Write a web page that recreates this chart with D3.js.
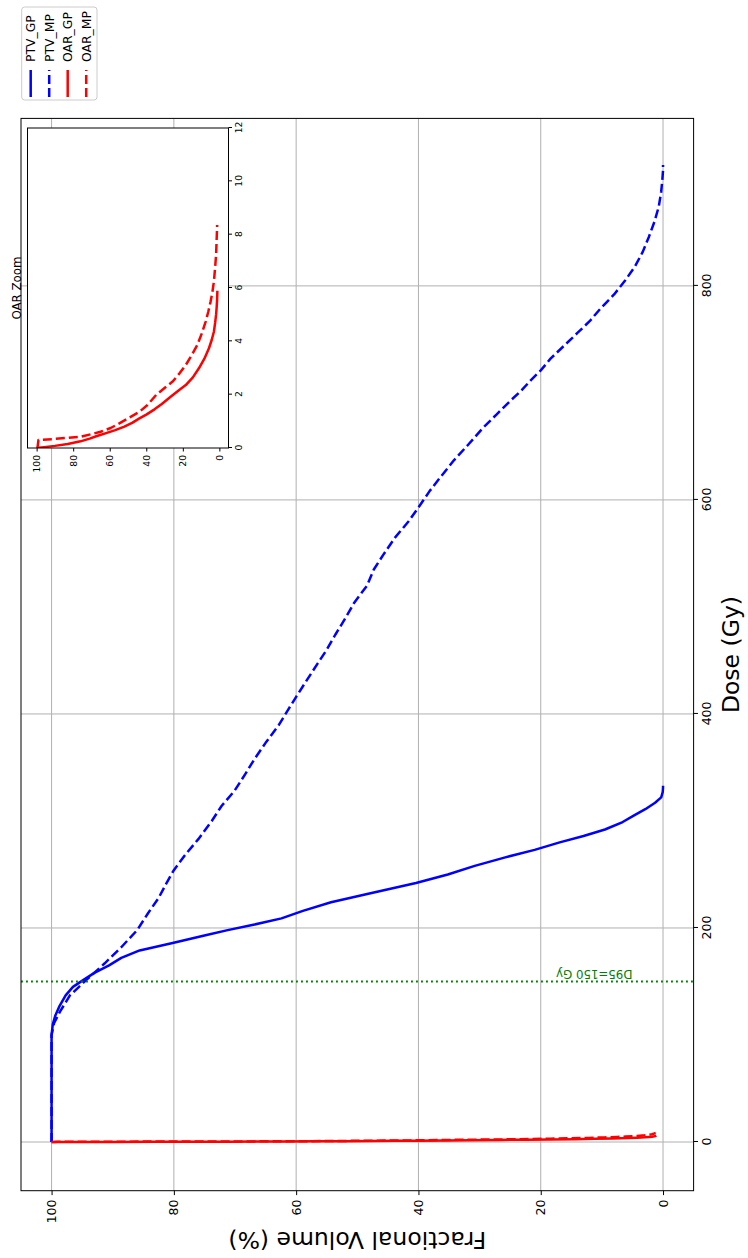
<!DOCTYPE html>
<html>
<head>
<meta charset="utf-8">
<script src="https://cdn.jsdelivr.net/npm/d3@7"></script>
<style>
  html, body { margin: 0; padding: 0; background: #ffffff; overflow: hidden; }
  svg { display: block; font-family: "DejaVu Sans", sans-serif; }
</style>
</head>
<body>
<script>
// ---------------- data ----------------
const doseTicks = [0, 200, 400, 600, 800];
const volTicks = [0, 20, 40, 60, 80, 100];
const insetDoseTicks = [0, 2, 4, 6, 8, 10, 12];
const seriesNames = ["PTV_GP", "PTV_MP", "OAR_GP", "OAR_MP"];

const ptvGpDose = [0, 100, 110, 118, 127, 137, 145, 151, 158, 165, 172, 179, 186, 193, 198, 203, 209, 216, 224, 232, 242, 250, 258, 266, 273, 280, 286, 292, 299, 305, 311, 317, 322, 327, 331, 333];
const ptvGpVol  = [100, 100, 99.8, 99.4, 98.7, 97.7, 96.5, 94.9, 93.0, 90.6, 88.6, 85.6, 80.2, 75.0, 71.2, 67.0, 62.4, 58.9, 54.3, 48.2, 40.4, 35.2, 30.8, 25.8, 21.0, 16.9, 13.0, 9.5, 6.6, 4.8, 2.9, 1.3, 0.3, 0.05, 0, 0];

const ptvMpDose = [0, 100, 111, 122, 137, 151, 167, 182, 198, 214, 228, 242, 254, 268, 283, 300, 314, 328, 344, 358, 373, 390, 404, 416, 432, 447, 460, 474, 489, 504, 520, 535, 550, 565, 580, 593, 608, 622, 637, 652, 667, 680, 693, 702, 712, 721, 732, 744, 756, 767, 779, 792, 805, 818, 832, 846, 860, 874, 888, 900, 908, 913];
const ptvMpVol  = [100, 100, 99.6, 98.6, 97.0, 94.4, 91.3, 88.6, 86.0, 84.2, 82.5, 81.2, 80.0, 78.2, 76.0, 73.8, 72.2, 70.1, 68.3, 66.8, 65.0, 62.8, 61.3, 60.0, 58.2, 56.5, 55.0, 53.6, 52.0, 50.5, 48.4, 47.3, 45.6, 43.8, 41.6, 40.0, 38.2, 36.3, 34.2, 31.8, 29.5, 27.2, 24.9, 23.2, 21.6, 20.0, 18.4, 16.2, 14.0, 12.0, 10.2, 8.0, 6.2, 4.6, 3.3, 2.3, 1.4, 0.7, 0.3, 0.1, 0, 0];

const oarGpDose = [0, 0.03, 0.08, 0.15, 0.25, 0.35, 0.45, 0.56, 0.67, 0.8, 0.95, 1.1, 1.25, 1.45, 1.65, 1.93, 2.15, 2.36, 2.65, 2.99, 3.35, 3.74, 4.05, 4.36, 4.7, 5.0, 5.3, 5.55, 5.75, 5.9];
const oarGpVol  = [100, 96, 90, 83, 76, 71, 67, 62, 57, 52, 47.5, 44, 40, 35.5, 31.5, 26.5, 22.5, 18.4, 14.5, 11.2, 8.2, 5.7, 4.2, 3.0, 2.3, 1.8, 1.45, 1.25, 1.15, 1.1];

const oarMpDose = [0, 0.02, 0.3, 0.34, 0.42, 0.52, 0.61, 0.75, 0.93, 1.15, 1.36, 1.6, 1.99, 2.25, 2.49, 2.8, 3.11, 3.5, 3.86, 4.3, 4.74, 5.1, 5.49, 5.85, 6.24, 6.7, 7.24, 7.8, 8.36];
const oarMpVol  = [100, 99.5, 99, 90, 76, 70, 65, 59.5, 54.5, 49, 43.7, 39.5, 34.6, 30, 25.6, 21.8, 18.4, 15, 12.1, 9.6, 7.5, 6.1, 4.8, 3.8, 3.0, 2.4, 1.8, 1.5, 1.2];

const d95Dose = 150;
const d95Label = "D95=150 Gy";

// ---------------- setup ----------------
const W = 748, H = 1258;
const svg = d3.select("body").append("svg").attr("width", W).attr("height", H);
svg.append("rect").attr("width", W).attr("height", H).attr("fill", "#ffffff");

// whole figure drawn in landscape coordinates then turned a quarter-turn counter-clockwise
const root = svg.append("g").attr("transform", `translate(0,${H}) rotate(-90)`);

const AX = { l: 67.3, r: 1139.6, t: 21, b: 693.6 };
const x = d3.scaleLinear().domain([-45.5, 956.5]).range([AX.l, AX.r]);
const y = d3.scaleLinear().domain([-5, 105]).range([AX.b, AX.t]);

const series = [
  { name: seriesNames[0], dose: ptvGpDose, vol: ptvGpVol, color: "#0000ff", dash: null },
  { name: seriesNames[1], dose: ptvMpDose, vol: ptvMpVol, color: "#0000ff", dash: "9,4" },
  { name: seriesNames[2], dose: oarGpDose, vol: oarGpVol, color: "#ff0000", dash: null },
  { name: seriesNames[3], dose: oarMpDose, vol: oarMpVol, color: "#ff0000", dash: "9,4" }
];

const defs = root.append("defs");
defs.append("clipPath").attr("id", "mainClip").append("rect")
  .attr("x", AX.l).attr("y", AX.t).attr("width", AX.r - AX.l).attr("height", AX.b - AX.t);

// grid
const grid = root.append("g");
grid.selectAll("line.gx").data(doseTicks).join("line")
  .attr("x1", d => x(d)).attr("x2", d => x(d)).attr("y1", AX.t).attr("y2", AX.b)
  .attr("stroke", "#b0b0b0").attr("stroke-width", 1);
grid.selectAll("line.gy").data(volTicks).join("line")
  .attr("x1", AX.l).attr("x2", AX.r).attr("y1", d => y(d)).attr("y2", d => y(d))
  .attr("stroke", "#b0b0b0").attr("stroke-width", 1);

// curves
const plot = root.append("g").attr("clip-path", "url(#mainClip)");
series.forEach(s => {
  const pts = d3.zip(s.dose, s.vol);
  plot.append("path")
    .attr("d", d3.line().x(d => x(d[0])).y(d => y(d[1]))(pts))
    .attr("fill", "none").attr("stroke", s.color).attr("stroke-width", 2.5)
    .attr("stroke-linejoin", "round")
    .attr("stroke-dasharray", s.dash);
});

// D95 line + label
plot.append("line")
  .attr("x1", x(d95Dose)).attr("x2", x(d95Dose)).attr("y1", AX.t).attr("y2", AX.b)
  .attr("stroke", "#008000").attr("stroke-width", 1.9).attr("stroke-dasharray", "1.9,3.1");
root.append("text")
  .attr("transform", `translate(${x(d95Dose + 2) + 9.5},${y(5)}) rotate(-90)`)
  .attr("font-size", 11.8).attr("fill", "#008000").text(d95Label);

// frame
root.append("rect").attr("x", AX.l).attr("y", AX.t)
  .attr("width", AX.r - AX.l).attr("height", AX.b - AX.t)
  .attr("fill", "none").attr("stroke", "#000").attr("stroke-width", 1);

// axes
const xAxis = root.append("g").attr("transform", `translate(0,${AX.b})`)
  .call(d3.axisBottom(x).tickValues(doseTicks).tickSize(4.4).tickPadding(4.4).tickFormat(d3.format("d")));
const yAxis = root.append("g").attr("transform", `translate(${AX.l},0)`)
  .call(d3.axisLeft(y).tickValues(volTicks).tickSize(4.4).tickPadding(4.4).tickFormat(d3.format("d")));
[xAxis, yAxis].forEach(g => {
  g.select(".domain").remove();
  g.selectAll(".tick line").attr("stroke", "#000").attr("stroke-width", 1);
  g.selectAll("text").attr("font-size", 12.5).attr("fill", "#000").attr("font-family", "DejaVu Sans");
});

// axis labels
root.append("text").attr("x", (AX.l + AX.r) / 2).attr("y", 739)
  .attr("text-anchor", "middle").attr("font-size", 23.5).attr("fill", "#000").text("Dose (Gy)");
root.append("text").attr("transform", `translate(26,${(AX.t + AX.b) / 2}) rotate(-90)`)
  .attr("text-anchor", "middle").attr("font-size", 23.5).attr("fill", "#000").text("Fractional Volume (%)");

// ---------------- inset ----------------
const IN = { l: 810, r: 1130, t: 27.5, b: 228.5 };
const xi = d3.scaleLinear().domain([0, 12]).range([IN.l, IN.r]);
const yi = d3.scaleLinear().domain([-5, 105]).range([IN.b, IN.t]);
defs.append("clipPath").attr("id", "insetClip").append("rect")
  .attr("x", IN.l).attr("y", IN.t).attr("width", IN.r - IN.l).attr("height", IN.b - IN.t);

const inset = root.append("g");
inset.append("rect").attr("x", IN.l).attr("y", IN.t)
  .attr("width", IN.r - IN.l).attr("height", IN.b - IN.t).attr("fill", "#ffffff");
const iplot = inset.append("g").attr("clip-path", "url(#insetClip)");
series.slice(2).forEach(s => {
  const pts = d3.zip(s.dose, s.vol);
  iplot.append("path")
    .attr("d", d3.line().x(d => xi(d[0])).y(d => yi(d[1]))(pts))
    .attr("fill", "none").attr("stroke", s.color).attr("stroke-width", 2.5)
    .attr("stroke-linejoin", "round")
    .attr("stroke-dasharray", s.dash);
});
inset.append("rect").attr("x", IN.l).attr("y", IN.t)
  .attr("width", IN.r - IN.l).attr("height", IN.b - IN.t)
  .attr("fill", "none").attr("stroke", "#000").attr("stroke-width", 1);
const xiAxis = inset.append("g").attr("transform", `translate(0,${IN.b})`)
  .call(d3.axisBottom(xi).tickValues(insetDoseTicks).tickSize(3.5).tickPadding(3.5).tickFormat(d3.format("d")));
const yiAxis = inset.append("g").attr("transform", `translate(${IN.l},0)`)
  .call(d3.axisLeft(yi).tickValues(volTicks).tickSize(3.5).tickPadding(3.5).tickFormat(d3.format("d")));
[xiAxis, yiAxis].forEach(g => {
  g.select(".domain").remove();
  g.selectAll(".tick line").attr("stroke", "#000").attr("stroke-width", 1);
  g.selectAll("text").attr("font-size", 9.2).attr("fill", "#000").attr("font-family", "DejaVu Sans");
});
inset.append("text").attr("x", (IN.l + IN.r) / 2).attr("y", 21)
  .attr("text-anchor", "middle").attr("font-size", 11.8).attr("fill", "#000").text("OAR Zoom");

// ---------------- legend ----------------
const LG = { l: 1158, r: 1251, t: 21.7, b: 97 };
const legend = root.append("g");
legend.append("rect").attr("x", LG.l).attr("y", LG.t)
  .attr("width", LG.r - LG.l).attr("height", LG.b - LG.t).attr("rx", 3)
  .attr("fill", "#ffffff").attr("fill-opacity", 0.8)
  .attr("stroke", "#cccccc").attr("stroke-width", 1);
const entry = legend.selectAll("g.entry").data(series).join("g")
  .attr("transform", (d, i) => `translate(0,${30.7 + i * 18.5})`);
entry.append("line").attr("x1", LG.l + 3).attr("x2", LG.l + 30).attr("y1", 0).attr("y2", 0)
  .attr("stroke", d => d.color).attr("stroke-width", 2.5).attr("stroke-dasharray", d => d.dash);
entry.append("text").attr("x", LG.l + 38).attr("y", 0).attr("dy", "0.35em")
  .attr("font-size", 12.4).attr("fill", "#000").text(d => d.name);
</script>
</body>
</html>
